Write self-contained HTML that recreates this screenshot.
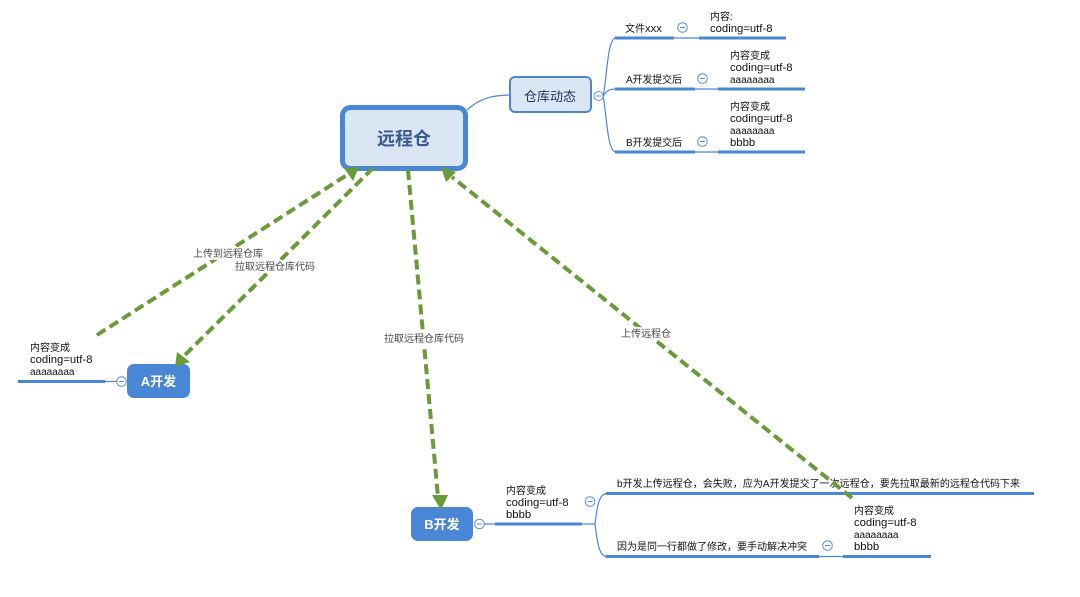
<!DOCTYPE html>
<html><head><meta charset="utf-8"><style>
html,body{margin:0;padding:0;background:#fff;width:1080px;height:597px;overflow:hidden}
svg{display:block}
text{font-family:"Liberation Sans","Noto Sans CJK SC",sans-serif;font-size:10px;fill:#111}
.lat{font-size:11.3px}
.aa{font-size:10px}
.lb{fill:#4a4a4a;font-size:10px}
.thick{stroke:#4a86d6;stroke-width:3;fill:none}
.thin{stroke:#4a86d6;stroke-width:1.2;fill:none}
.dash{stroke:#6b9a3b;stroke-width:4;stroke-dasharray:10 5;fill:none}
.ar{fill:#6b9a3b}
.cc{fill:#fff;stroke:#5b90d8;stroke-width:1}
.cm{stroke:#5b90d8;stroke-width:1}
</style></head><body>
<svg width="1080" height="597" viewBox="0 0 1080 597" xmlns="http://www.w3.org/2000/svg">
<path class="thin" d="M467 110C480 98 492 95.500 510 95"/>
<path class="thin" d="M603 96C607 80 607 38 616 38M603 96C606 92 608 89 616 89M603 96C607 115 607 152 616 152"/>
<path class="thick" d="M615 38H674M699 38H786M615 89H695M718 89H805M615 152H695M718 152H805"/>
<path class="thin" d="M674 38H699M695 89H718M695 152H718"/>
<rect x="342.500" y="107.500" width="123" height="61" rx="8" fill="#dae6f4" stroke="#4a86d6" stroke-width="5"/>
<text x="404" y="145" text-anchor="middle" style="font-size:18px;font-weight:bold;fill:#3b5a8c">远程仓</text>
<rect x="510" y="77" width="81" height="35" rx="5" fill="#dae6f4" stroke="#4a86d6" stroke-width="2"/>
<text x="550" y="101" text-anchor="middle" style="font-size:13px;fill:#1f3355">仓库动态</text>
<circle class="cc" cx="598.500" cy="96" r="4.500"/><path class="cm" d="M596 96H601"/>
<circle class="cc" cx="682.500" cy="27.500" r="4.800"/><path class="cm" d="M680 27.500H685"/>
<circle class="cc" cx="702.500" cy="78.500" r="4.800"/><path class="cm" d="M700 78.500H705"/>
<circle class="cc" cx="702.500" cy="141.500" r="4.800"/><path class="cm" d="M700 141.500H705"/>
<text x="625" y="32">文件<tspan class="lat">xxx</tspan></text>
<text x="710" y="20">内容:</text>
<text x="710" y="32" class="lat">coding=utf-8</text>
<text x="626" y="83" textLength="56" lengthAdjust="spacing"><tspan class="aa">A</tspan>开发提交后</text>
<text x="730" y="59">内容变成</text>
<text x="730" y="71" class="lat">coding=utf-8</text>
<text x="730" y="83" class="aa">aaaaaaaa</text>
<text x="626" y="146" textLength="56" lengthAdjust="spacing"><tspan class="aa">B</tspan>开发提交后</text>
<text x="730" y="110">内容变成</text>
<text x="730" y="122" class="lat">coding=utf-8</text>
<text x="730" y="134" class="aa">aaaaaaaa</text>
<text x="730" y="146" class="lat">bbbb</text>
<path class="thick" d="M18 381.500H105"/>
<path class="thin" d="M105 381.500H117"/>
<circle class="cc" cx="121.500" cy="381.500" r="4.800"/><path class="cm" d="M119 381.500H124"/>
<text x="30" y="351">内容变成</text>
<text x="30" y="363" class="lat">coding=utf-8</text>
<text x="30" y="375" class="aa">aaaaaaaa</text>
<rect x="127" y="364" width="63" height="34" rx="7" fill="#4a86d6"/>
<text x="158.500" y="386" text-anchor="middle" style="font-size:13px;font-weight:bold;fill:#fff">A开发</text>
<rect x="411" y="507" width="62" height="34" rx="7" fill="#4a86d6"/>
<text x="442" y="529" text-anchor="middle" style="font-size:13px;font-weight:bold;fill:#fff">B开发</text>
<circle class="cc" cx="479.500" cy="524" r="4.800"/><path class="cm" d="M477 524H482"/>
<path class="thin" d="M484 524H496M582 524H595"/>
<path class="thick" d="M495 524H582M606 493.500H1034M606 556.500H819M843 556.500H931"/>
<path class="thin" d="M595 524C597 510 598 493.500 607 493.500M595 524C597 538 598 556.500 607 556.500M819 556.500H843"/>
<circle class="cc" cx="590" cy="501.500" r="4.800"/><path class="cm" d="M587.500 501.500H592.500"/>
<circle class="cc" cx="827.500" cy="545.500" r="4.800"/><path class="cm" d="M825 545.500H830"/>
<text x="506" y="494">内容变成</text>
<text x="506" y="506" class="lat">coding=utf-8</text>
<text x="506" y="518" class="lat">bbbb</text>
<text x="617" y="487" textLength="403" lengthAdjust="spacing"><tspan class="aa">b</tspan>开发上传远程仓，会失败，应为<tspan class="aa">A</tspan>开发提交了一次远程仓，要先拉取最新的远程仓代码下来</text>
<text x="617" y="550">因为是同一行都做了修改，要手动解决冲突</text>
<text x="854" y="514">内容变成</text>
<text x="854" y="526" class="lat">coding=utf-8</text>
<text x="854" y="538" class="aa">aaaaaaaa</text>
<text x="854" y="550" class="lat">bbbb</text>
<path class="dash" d="M97 335L347 175"/>
<polygon class="ar" points="359,167 344,168 353,181"/>
<path class="dash" d="M373 168L184 356"/>
<polygon class="ar" points="175,367 177,352 190,362"/>
<path class="dash" d="M408 170L438 497"/>
<polygon class="ar" points="441,510 432,495 448,495"/>
<path class="dash" d="M852 498L452 177"/>
<polygon class="ar" points="441,167 456,172 446,182"/>
<rect x="192" y="247" width="71" height="13" fill="#fff" opacity=".85"/>
<rect x="235" y="260" width="80" height="13" fill="#fff" opacity=".85"/>
<rect x="384" y="332" width="80" height="13" fill="#fff" opacity=".85"/>
<rect x="620" y="327" width="52" height="13" fill="#fff" opacity=".85"/>
<text class="lb" x="193" y="257">上传到远程仓库</text>
<text class="lb" x="235" y="270">拉取远程仓库代码</text>
<text class="lb" x="384" y="342">拉取远程仓库代码</text>
<text class="lb" x="621" y="337">上传远程仓</text>
</svg>
</body></html>
